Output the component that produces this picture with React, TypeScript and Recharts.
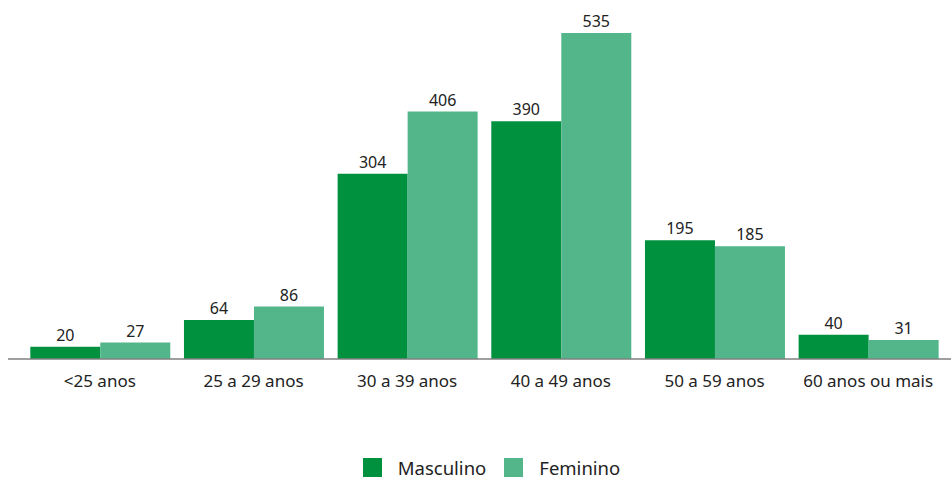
import { BarChart, Bar, XAxis, YAxis, LabelList, Legend } from "recharts";

// Faixas etárias e totais por sexo
const faixas = ["<25 anos", "25 a 29 anos", "30 a 39 anos", "40 a 49 anos", "50 a 59 anos", "60 anos ou mais"];
const masculino = [20, 64, 304, 390, 195, 40];
const feminino = [27, 86, 406, 535, 185, 31];

const COR_MASC = "#00913F";
const COR_FEM = "#52B68A";
const FONTE = "'Noto Sans', sans-serif";

const dados = faixas.map((name, i) => ({ name, masculino: masculino[i], feminino: feminino[i] }));

const renderLegenda = () => (
  <div style={{ display: "flex", justifyContent: "center", alignItems: "center", height: 24, paddingLeft: 24, fontFamily: FONTE, fontSize: 18.5, color: "#222" }}>
    {[
      { nome: "Masculino", cor: COR_MASC },
      { nome: "Feminino", cor: COR_FEM },
    ].map((item) => (
      <div key={item.nome} style={{ display: "flex", alignItems: "center", margin: "0 9px" }}>
        <span style={{ width: 19, height: 19, background: item.cor, display: "inline-block", marginRight: 16 }} />
        <span>{item.nome}</span>
      </div>
    ))}
  </div>
);

export default function App() {
  return (
    <div style={{ position: "absolute", left: 0, top: 0, width: 951, height: 479, background: "#fff" }}>
      <BarChart
        width={951}
        height={479}
        data={dados}
        margin={{ top: 33, right: 0, left: 8, bottom: 0 }}
        barGap={0}
        barCategoryGap="4.75%"
      >
        <XAxis
          dataKey="name"
          padding={{ left: 15, right: 6 }}
          tickLine={false}
          axisLine={{ stroke: "#7f7f7f", strokeWidth: 1.5 }}
          tick={{ fontSize: 17, fill: "#222", fontFamily: FONTE }}
          tickMargin={10}
          height={96}
          interval={0}
        />
        <YAxis hide domain={[0, 535]} />
        <Legend content={renderLegenda} verticalAlign="bottom" height={24} wrapperStyle={{ bottom: 0 }} />
        <Bar dataKey="masculino" fill={COR_MASC} isAnimationActive={false}>
          <LabelList dataKey="masculino" position="top" offset={6} style={{ fontSize: 16, fill: "#222", fontFamily: FONTE }} />
        </Bar>
        <Bar dataKey="feminino" fill={COR_FEM} isAnimationActive={false}>
          <LabelList dataKey="feminino" position="top" offset={6} style={{ fontSize: 16, fill: "#222", fontFamily: FONTE }} />
        </Bar>
      </BarChart>
    </div>
  );
}
